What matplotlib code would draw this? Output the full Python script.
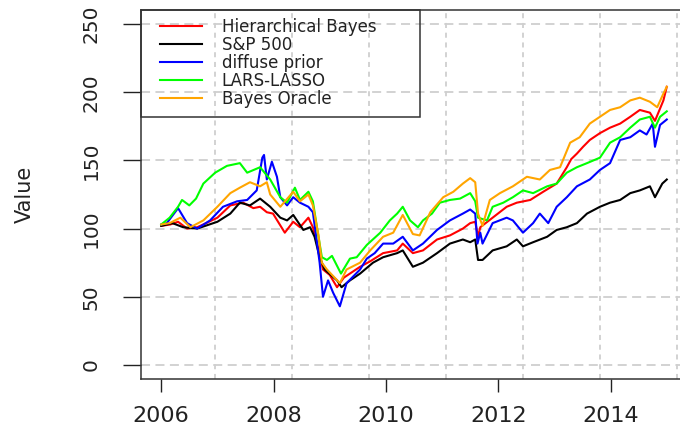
import matplotlib
matplotlib.use("Agg")
import matplotlib.pyplot as plt
from matplotlib.legend_handler import HandlerLine2D
from matplotlib.lines import Line2D
import numpy as np

# values (decimal year, index value)
hb_x = [2006.00, 2006.16, 2006.30, 2006.46, 2006.64, 2006.80, 2007.00, 2007.23, 2007.46, 2007.64,
        2007.76, 2007.88, 2007.99, 2008.20, 2008.35, 2008.47, 2008.62, 2008.70, 2008.80, 2008.88,
        2009.00, 2009.13, 2009.25, 2009.54, 2009.72, 2009.95, 2010.20, 2010.30, 2010.48, 2010.66,
        2010.91, 2011.14, 2011.37, 2011.50, 2011.59, 2011.64, 2011.68, 2011.90, 2012.15, 2012.33,
        2012.57, 2012.80, 2013.04, 2013.22, 2013.30, 2013.40, 2013.51, 2013.63, 2013.81, 2013.99,
        2014.17, 2014.35, 2014.52, 2014.70, 2014.79, 2014.94, 2015.00]
hb_y = [102, 103, 105, 100, 101, 104, 108, 117, 119, 115,
        116, 112, 111, 97, 105, 101, 108, 101, 85, 70,
        66, 57, 64, 72, 76, 82, 84, 89, 82, 84,
        92, 95, 100, 104, 105, 94, 101, 108, 116, 119,
        121, 127, 133, 145, 151, 155, 160, 165, 170, 174,
        177, 182, 187, 185, 179, 194, 204]

sp_x = [2006.00, 2006.20, 2006.39, 2006.64, 2007.00, 2007.23, 2007.40, 2007.58, 2007.76, 2007.94,
        2008.12, 2008.24, 2008.35, 2008.53, 2008.65, 2008.73, 2008.82, 2008.91, 2009.13, 2009.21,
        2009.36, 2009.54, 2009.77, 2009.95, 2010.20, 2010.30, 2010.48, 2010.66, 2010.91, 2011.14,
        2011.37, 2011.50, 2011.59, 2011.64, 2011.72, 2011.90, 2012.15, 2012.33, 2012.44, 2012.62,
        2012.87, 2013.04, 2013.22, 2013.40, 2013.58, 2013.81, 2013.99, 2014.17, 2014.35, 2014.52,
        2014.70, 2014.79, 2014.92, 2015.00]
sp_y = [102, 104, 101, 100, 105, 111, 119, 117, 122, 116,
        108, 106, 110, 99, 101, 94, 79, 70, 62, 57,
        62, 67, 75, 79, 82, 84, 72, 75, 82, 89,
        92, 90, 92, 77, 77, 84, 87, 92, 87, 90,
        94, 99, 101, 104, 111, 116, 119, 121, 126, 128,
        131, 123, 133, 136]

dp_x = [2006.00, 2006.10, 2006.30, 2006.46, 2006.64, 2006.87, 2007.10, 2007.35, 2007.53, 2007.70,
        2007.80, 2007.83, 2007.88, 2007.97, 2008.06, 2008.12, 2008.24, 2008.35, 2008.47, 2008.62,
        2008.70, 2008.82, 2008.88, 2008.97, 2009.06, 2009.18, 2009.30, 2009.54, 2009.66, 2009.80,
        2009.95, 2010.13, 2010.30, 2010.48, 2010.66, 2010.91, 2011.14, 2011.37, 2011.50, 2011.59,
        2011.63, 2011.68, 2011.72, 2011.90, 2012.15, 2012.26, 2012.44, 2012.62, 2012.74, 2012.89,
        2013.04, 2013.22, 2013.40, 2013.63, 2013.81, 2013.99, 2014.17, 2014.35, 2014.52, 2014.64,
        2014.75, 2014.79, 2014.88, 2015.00]
dp_y = [103, 104, 115, 104, 100, 106, 116, 120, 121, 128,
        152, 154, 136, 149, 138, 123, 117, 123, 119, 116,
        112, 75, 50, 62, 53, 43, 60, 70, 78, 82,
        89, 89, 94, 84, 89, 99, 106, 111, 114, 111,
        89, 97, 89, 104, 108, 106, 97, 104, 111, 104,
        116, 123, 131, 136, 143, 148, 165, 167, 172, 169,
        177, 160, 176, 180]

ll_x = [2006.00, 2006.15, 2006.30, 2006.37, 2006.50, 2006.62, 2006.75, 2006.96, 2007.17, 2007.40,
        2007.53, 2007.76, 2007.94, 2008.12, 2008.24, 2008.38, 2008.47, 2008.62, 2008.70, 2008.78,
        2008.86, 2008.95, 2009.04, 2009.20, 2009.36, 2009.48, 2009.66, 2009.90, 2010.07, 2010.20,
        2010.30, 2010.43, 2010.57, 2010.66, 2010.82, 2010.96, 2011.14, 2011.32, 2011.50, 2011.59,
        2011.64, 2011.80, 2011.90, 2012.09, 2012.26, 2012.44, 2012.62, 2012.87, 2013.04, 2013.22,
        2013.40, 2013.58, 2013.81, 2013.99, 2014.17, 2014.35, 2014.52, 2014.70, 2014.79, 2014.88,
        2015.00]
ll_y = [103, 108, 116, 121, 117, 122, 133, 141, 146, 148,
        141, 145, 136, 123, 119, 130, 121, 127, 120, 99,
        79, 77, 80, 67, 78, 79, 88, 97, 106, 111,
        116, 106, 101, 106, 111, 119, 121, 122, 126, 120,
        108, 106, 116, 119, 123, 128, 126, 131, 133, 141,
        145, 148, 152, 163, 167, 174, 180, 182, 174, 182,
        186]

bo_x = [2006.00, 2006.15, 2006.34, 2006.52, 2006.75, 2007.00, 2007.23, 2007.40, 2007.58, 2007.76,
        2007.88, 2007.94, 2008.12, 2008.35, 2008.47, 2008.62, 2008.70, 2008.80, 2008.86, 2008.95,
        2009.18, 2009.30, 2009.54, 2009.72, 2009.95, 2010.13, 2010.30, 2010.48, 2010.60, 2010.79,
        2011.02, 2011.20, 2011.37, 2011.50, 2011.59, 2011.64, 2011.72, 2011.85, 2012.03, 2012.26,
        2012.51, 2012.74, 2012.92, 2013.10, 2013.28, 2013.45, 2013.63, 2013.81, 2013.99, 2014.17,
        2014.35, 2014.52, 2014.70, 2014.83, 2014.94, 2015.00]
bo_y = [103, 104, 108, 101, 106, 116, 126, 130, 134, 131,
        134, 125, 116, 127, 120, 125, 117, 95, 75, 70,
        60, 70, 75, 84, 94, 97, 110, 96, 95, 112,
        123, 127, 133, 137, 134, 111, 102, 121, 126, 131,
        138, 136, 143, 145, 163, 167, 177, 182, 187, 189,
        194, 196, 193, 189, 199, 204]

labels = ["Hierarchical Bayes", "S&P 500", "diffuse prior", "LARS-LASSO", "Bayes Oracle"]
series = [(hb_x, hb_y), (sp_x, sp_y), (dp_x, dp_y), (ll_x, ll_y), (bo_x, bo_y)]
colors = ["#FF0000", "#000000", "#0000FF", "#00FF00", "#FFA500"]

year_ticks = [2006, 2008, 2010, 2012, 2014]
value_ticks = [0, 50, 100, 150, 200, 250]

fig = plt.figure(figsize=(6.8, 4.34), dpi=100)
# box runs past the right edge like the cropped original
ax = fig.add_axes([141 / 680, 55 / 434, 546 / 680, 369 / 434])

grid_col = "#cfcfcf"
for v in value_ticks:
    ax.axhline(v, color=grid_col, lw=1.3, ls=(0, (5.0, 3.0)), zorder=0)
for gx in np.arange(2006.96, 2015.4, 1.37):
    ax.axvline(gx, color=grid_col, lw=1.3, ls=(0, (2.8, 2.6)), zorder=0)

handles = []
for (xs, ys), lab, c in zip(series, labels, colors):
    ln, = ax.plot(xs, ys, color=c, lw=1.5, label=lab)
    handles.append(ln)

ax.set_xlim(2005.64, 2015.36)
ax.set_ylim(-10.3, 260.3)
ax.set_xticks(year_ticks)
ax.set_xticklabels([str(y) for y in year_ticks])
ax.set_yticks(value_ticks)
ax.tick_params(axis="x", direction="out", length=9.4, width=1, pad=10, labelsize=16, colors="#222222")
ax.tick_params(axis="y", direction="out", length=13, width=1, pad=16, labelsize=14.5, labelrotation=90,
               colors="#222222")
for t in ax.get_yticklabels():
    t.set_va("center")
ax.spines["right"].set_visible(False)
for s in ["left", "top", "bottom"]:
    ax.spines[s].set_linewidth(1.1)
    ax.spines[s].set_color("#333333")

ax.set_ylabel("Value", fontsize=15, color="#222222")
ax.yaxis.set_label_coords(-0.195, 0.5)

leg = ax.legend(handles=handles, loc="upper left", mode="expand",
                bbox_to_anchor=(0, 0.734, 0.511, 0.266), borderaxespad=0,
                fontsize=12, labelspacing=0.0, borderpad=0.5,
                handlelength=3.8, handletextpad=0.55, fancybox=False,
                edgecolor="#333333", framealpha=1,
                handler_map={Line2D: HandlerLine2D(marker_pad=0.65, numpoints=2)})
leg.get_frame().set_facecolor("none")
leg.get_frame().set_linewidth(1.1)
for t in leg.get_texts():
    t.set_color("#222222")

fig.savefig("out.png", dpi=100)
